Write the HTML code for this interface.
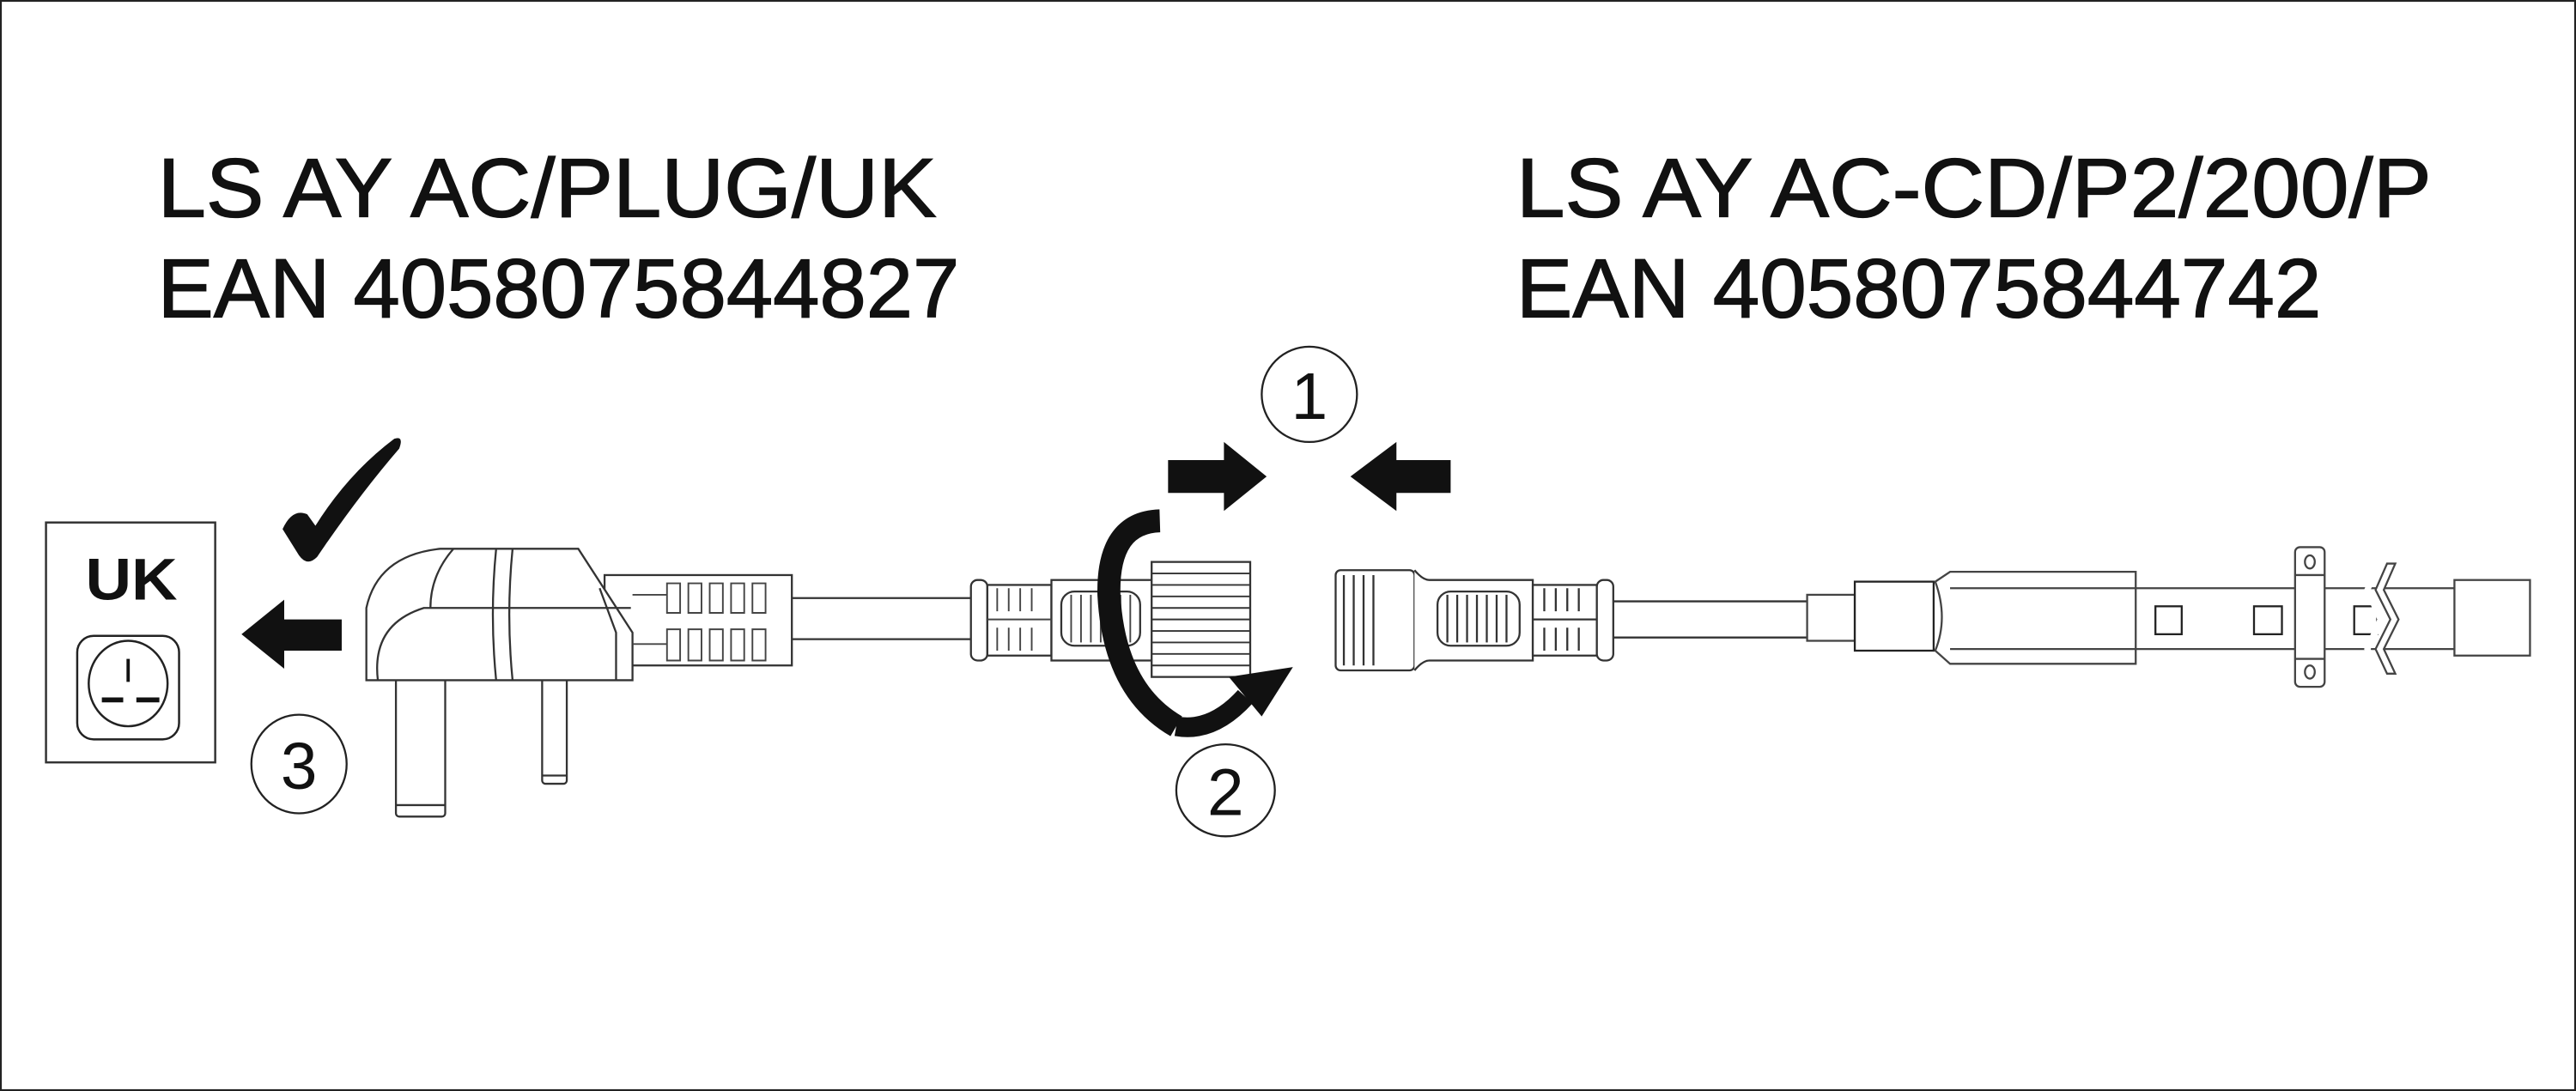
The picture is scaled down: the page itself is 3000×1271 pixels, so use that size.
<!DOCTYPE html>
<html><head><meta charset="utf-8"><style>
html,body{margin:0;padding:0;background:#fff;}
svg{display:block;}
text{font-family:"Liberation Sans",Arial,sans-serif;fill:#111;}
.t{stroke:#111;stroke-width:0.7;}
</style></head><body>
<svg width="3000" height="1271" viewBox="0 0 1568 664" preserveAspectRatio="none" xmlns="http://www.w3.org/2000/svg">
<rect x="0.5" y="0.5" width="1567" height="663" fill="#fff" stroke="#222" stroke-width="1.2"/>

<!-- Titles -->
<text class="t" x="96" y="132" font-size="51" textLength="474" lengthAdjust="spacingAndGlyphs">LS AY AC/PLUG/UK</text>
<text class="t" x="96" y="193" font-size="51" textLength="488" lengthAdjust="spacingAndGlyphs">EAN 4058075844827</text>
<text class="t" x="923" y="132" font-size="51" textLength="557" lengthAdjust="spacingAndGlyphs">LS AY AC-CD/P2/200/P</text>
<text class="t" x="923" y="193" font-size="51" textLength="490" lengthAdjust="spacingAndGlyphs">EAN 4058075844742</text>

<!-- Step circles -->
<g fill="none" stroke="#222" stroke-width="1.2">
<ellipse cx="797" cy="240" rx="29" ry="29"/>
<ellipse cx="746" cy="481" rx="30" ry="28"/>
<ellipse cx="182" cy="465" rx="29" ry="30"/>
</g>
<text x="797" y="255" font-size="40" text-anchor="middle">1</text>
<text x="746" y="496" font-size="40" text-anchor="middle">2</text>
<text x="182" y="480" font-size="40" text-anchor="middle">3</text>

<!-- Checkmark -->
<path d="M172,322 Q178,309 187,313 L192,320 Q212,288 240,267 Q246,265 243,273 Q218,302 193,339 Q187,345 182,338 Z" fill="#111"/>

<!-- UK socket box -->
<rect x="28" y="318" width="103" height="146" fill="#fff" stroke="#333" stroke-width="1.3"/>
<text x="80" y="365" font-size="36" font-weight="bold" text-anchor="middle" textLength="56" lengthAdjust="spacingAndGlyphs">UK</text>
<rect x="47" y="387" width="62" height="63" rx="10" fill="none" stroke="#222" stroke-width="1.3"/>
<ellipse cx="78" cy="416" rx="24" ry="26" fill="none" stroke="#222" stroke-width="1.3"/>
<line x1="78" y1="401" x2="78" y2="415" stroke="#111" stroke-width="2"/>
<line x1="62" y1="426" x2="75" y2="426" stroke="#111" stroke-width="3"/>
<line x1="83" y1="426" x2="97" y2="426" stroke="#111" stroke-width="3"/>

<!-- Arrow into socket -->
<polygon points="147,386 173,365 173,377 208,377 208,396 173,396 173,407" fill="#111"/>

<!-- Arrows step 1 -->
<polygon points="711,280 745,280 745,269 771,290 745,311 745,300 711,300" fill="#111"/>
<polygon points="883,280 850,280 850,269 822,290 850,311 850,300 883,300" fill="#111"/>

<!-- Plug -->
<g fill="#fff" stroke="#333" stroke-width="1.2">
<rect x="241" y="412" width="30" height="85" rx="2"/>
<line x1="241" y1="490" x2="271" y2="490"/>
<rect x="330" y="412" width="15" height="65" rx="2"/>
<line x1="330" y1="472" x2="345" y2="472"/>
<line x1="482" y1="364" x2="592" y2="364"/>
<line x1="482" y1="389" x2="592" y2="389"/>
<rect x="368" y="350" width="114" height="55"/>
<path d="M223,414 L223,370 Q230,338 268,334 L352,334 L385,385 L385,414 Z"/>
<path d="M230,414 Q226,380 258,370 L384,370" fill="none"/>
<path d="M302,334 Q298,374 302,414 M312,334 Q308,374 312,414" fill="none"/>
<path d="M276,334 Q262,350 262,370 M365,358 L375,385 L375,414" fill="none"/>
</g>
<g fill="none" stroke="#444" stroke-width="1">
<path d="M406,355 h8 v18 h-8 z M419,355 h8 v18 h-8 z M432,355 h8 v18 h-8 z M445,355 h8 v18 h-8 z M458,355 h8 v18 h-8 z"/>
<path d="M406,383 h8 v19 h-8 z M419,383 h8 v19 h-8 z M432,383 h8 v19 h-8 z M445,383 h8 v19 h-8 z M458,383 h8 v19 h-8 z"/>
<line x1="385" y1="362" x2="406" y2="362"/><line x1="385" y1="392" x2="406" y2="392"/>
</g>

<!-- Left connector (female) -->
<g fill="#fff" stroke="#333" stroke-width="1.2">
<rect x="591" y="353" width="10" height="49" rx="4"/>
<rect x="601" y="356" width="39" height="43"/>
<rect x="640" y="353" width="62" height="49"/>
<rect x="646" y="360" width="48" height="33" rx="8"/>
</g>
<g stroke="#444" stroke-width="1">
<line x1="652" y1="362" x2="652" y2="391"/><line x1="658" y1="362" x2="658" y2="391"/><line x1="664" y1="362" x2="664" y2="391"/><line x1="670" y1="362" x2="670" y2="391"/><line x1="676" y1="362" x2="676" y2="391"/><line x1="682" y1="362" x2="682" y2="391"/><line x1="688" y1="362" x2="688" y2="391"/>
<path d="M607,358 v14 M614,358 v14 M621,358 v14 M628,358 v14 M607,382 v14 M614,382 v14 M621,382 v14 M628,382 v14 M601,377 h39" fill="none"/>
</g>
<!-- rotation arrow (back part) -->
<path d="M706,317 Q674,318 675,362 Q678,420 716,442" fill="none" stroke="#111" stroke-width="14"/>
<!-- nut -->
<rect x="701" y="342" width="60" height="70" fill="#fff" stroke="#333" stroke-width="1.2"/>
<g stroke="#333" stroke-width="1">
<line x1="701" y1="349" x2="761" y2="349"/><line x1="701" y1="356" x2="761" y2="356"/><line x1="701" y1="363" x2="761" y2="363"/><line x1="701" y1="370" x2="761" y2="370"/><line x1="701" y1="377" x2="761" y2="377"/><line x1="701" y1="384" x2="761" y2="384"/><line x1="701" y1="391" x2="761" y2="391"/><line x1="701" y1="398" x2="761" y2="398"/><line x1="701" y1="405" x2="761" y2="405"/>
</g>
<!-- rotation arrow (front part) -->
<path d="M716,442 Q738,446 758,424" fill="none" stroke="#111" stroke-width="12"/>
<polygon points="748,412 787,406 768,436" fill="#111"/>

<!-- Right connector (male) -->
<g fill="#fff" stroke="#333" stroke-width="1.2">
<rect x="813" y="347" width="48" height="61" rx="3"/>
<path d="M861,347 Q866,353 870,353 L933,353 L933,402 L870,402 Q866,402 861,408"/>
<rect x="875" y="360" width="50" height="33" rx="8"/>
<rect x="933" y="356" width="39" height="43"/>
<rect x="972" y="353" width="10" height="49" rx="4"/>
<line x1="982" y1="366" x2="1100" y2="366"/>
<line x1="982" y1="388" x2="1100" y2="388"/>
</g>
<g stroke="#333" stroke-width="1.2" fill="none">
<path d="M818,350 v55 M824,350 v55 M830,350 v55 M836,350 v55"/>
<line x1="881" y1="362" x2="881" y2="391"/><line x1="887" y1="362" x2="887" y2="391"/><line x1="893" y1="362" x2="893" y2="391"/><line x1="899" y1="362" x2="899" y2="391"/><line x1="905" y1="362" x2="905" y2="391"/><line x1="911" y1="362" x2="911" y2="391"/><line x1="917" y1="362" x2="917" y2="391"/>
<path d="M940,358 v14 M947,358 v14 M954,358 v14 M961,358 v14 M940,382 v14 M947,382 v14 M954,382 v14 M961,382 v14 M933,377 h39"/>
</g>

<!-- LED strip -->
<g fill="#fff" stroke="#444" stroke-width="1.2">
<line x1="1300" y1="358" x2="1495" y2="358"/>
<line x1="1300" y1="395" x2="1495" y2="395"/>
<rect x="1100" y="362" width="29" height="28"/>
<rect x="1129" y="354" width="48" height="42" stroke="#222"/>
<path d="M1187,348 L1300,348 L1300,404 L1187,404 L1178,396 Q1186,376 1178,354 Z"/>
<line x1="1187" y1="358" x2="1300" y2="358"/>
<line x1="1187" y1="395" x2="1300" y2="395"/>
<rect x="1312" y="369" width="16" height="17" stroke="#222"/>
<rect x="1372" y="369" width="17" height="17" stroke="#222"/>
<rect x="1433" y="369" width="14" height="17" stroke="#222"/>
<rect x="1397" y="333" width="18" height="85" rx="3"/>
<line x1="1397" y1="350" x2="1415" y2="350"/>
<line x1="1397" y1="401" x2="1415" y2="401"/>
<ellipse cx="1406" cy="342" rx="3" ry="4"/>
<ellipse cx="1406" cy="409" rx="3" ry="4"/>
<path d="M1446,343 L1450,343 L1443,359 L1452,377 L1443,395 L1450,410 L1446,410 L1439,395 L1447,377 L1439,359 Z" stroke="none"/>
<path d="M1453,343 L1458,343 L1451,359 L1460,377 L1451,395 L1458,410 L1453,410 L1446,395 L1455,377 L1446,359 Z" fill="#fff"/>
<rect x="1494" y="353" width="46" height="46"/>
</g>
</svg>
</body></html>
